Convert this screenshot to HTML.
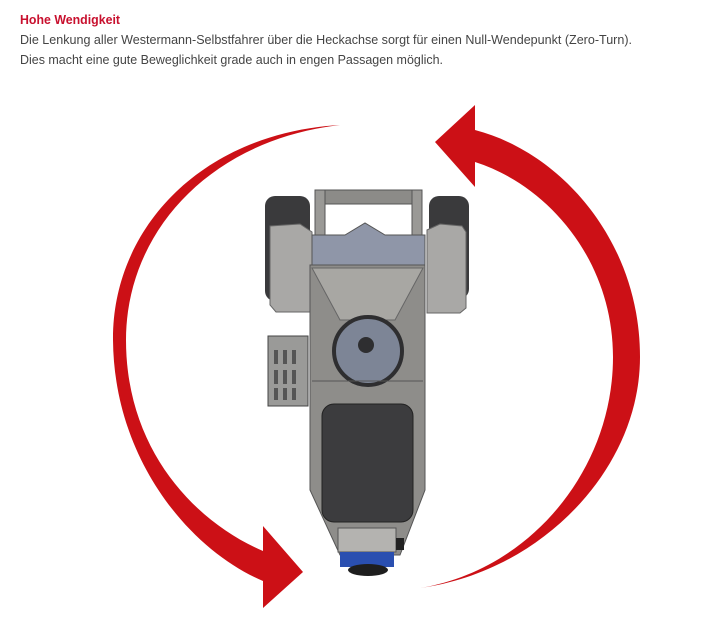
<!DOCTYPE html>
<html><head><meta charset="utf-8"><style>
html,body{margin:0;padding:0;background:#fff;}
svg{display:block;}
</style></head><body>
<svg width="704" height="638" viewBox="0 0 704 638" xmlns="http://www.w3.org/2000/svg">
<g font-family="Liberation Sans, sans-serif">
<text x="20" y="24" font-size="12.5" font-weight="bold" fill="#c8102e" textLength="100" lengthAdjust="spacingAndGlyphs">Hohe Wendigkeit</text>
<text x="20" y="44" font-size="12.5" fill="#444" textLength="612" lengthAdjust="spacingAndGlyphs">Die Lenkung aller Westermann-Selbstfahrer über die Heckachse sorgt für einen Null-Wendepunkt (Zero-Turn).</text>
<text x="20" y="64" font-size="12.5" fill="#444" textLength="423" lengthAdjust="spacingAndGlyphs">Dies macht eine gute Beweglichkeit grade auch in engen Passagen möglich.</text>
</g>
<!-- arrows -->
<path fill="#cc1016" d="M340,125 C200,133 112,230 113,340 C114,460 190,550 263,581 L263,608 L303,572 L263,526 L263,551 C195,522 126,450 126,340 C126,232 210,140 340,125 Z"/>
<path fill="#cc1016" d="M420,588 C540,572 640,470 640,357 C640,240 560,152 475,130 L475,105 L435,142 L475,187 L475,162 C550,186 613,262 613,357 C613,470 530,570 420,588 Z"/>
<!-- machine -->
<g>
<rect x="265" y="196" width="45" height="105" rx="10" fill="#3a3a3c"/>
<rect x="429" y="196" width="40" height="103" rx="10" fill="#3a3a3c"/>
<path d="M270,226 L300,224 L312,232 L312,312 L276,312 L270,305 Z" fill="#a9a8a6" stroke="#666" stroke-width="1"/>
<path d="M427,230 L440,224 L462,226 L466,232 L466,308 L460,313 L427,313 Z" fill="#a9a8a6" stroke="#666" stroke-width="1"/>
<rect x="315" y="190" width="107" height="14" fill="#8c8b88" stroke="#555"/>
<rect x="315" y="190" width="10" height="50" fill="#9a9996" stroke="#555"/>
<rect x="412" y="190" width="10" height="50" fill="#9a9996" stroke="#555"/>
<path d="M312,235 L345,235 L365,223 L385,235 L425,235 L425,268 L312,268 Z" fill="#8f96a8" stroke="#555"/>
<path d="M310,265 L425,265 L425,490 L400,555 L340,555 L310,490 Z" fill="#8e8d8a" stroke="#555"/>
<path d="M312,268 L423,268 L395,320 L340,320 Z" fill="#a8a7a3" stroke="#666"/>
<rect x="268" y="336" width="40" height="70" fill="#9a9a98" stroke="#444"/>
<g fill="#555"><rect x="274" y="350" width="4" height="14"/><rect x="283" y="350" width="4" height="14"/><rect x="292" y="350" width="4" height="14"/><rect x="274" y="370" width="4" height="14"/><rect x="283" y="370" width="4" height="14"/><rect x="292" y="370" width="4" height="14"/><rect x="274" y="388" width="4" height="12"/><rect x="283" y="388" width="4" height="12"/><rect x="292" y="388" width="4" height="12"/></g>
<circle cx="368" cy="351" r="34" fill="#7d8596" stroke="#2e2e30" stroke-width="4"/>
<circle cx="366" cy="345" r="8" fill="#2e2e30"/>
<line x1="312" y1="381" x2="423" y2="381" stroke="#555"/>
<rect x="322" y="404" width="91" height="118" rx="12" fill="#3c3c3e" stroke="#222"/>
<rect x="338" y="528" width="58" height="24" fill="#b4b3b0" stroke="#555"/>
<rect x="340" y="552" width="54" height="15" fill="#2a4fb0"/>
<rect x="396" y="538" width="8" height="12" fill="#222"/>
<ellipse cx="368" cy="570" rx="20" ry="6" fill="#1e1e1e"/>
</g>
</svg>
</body></html>
